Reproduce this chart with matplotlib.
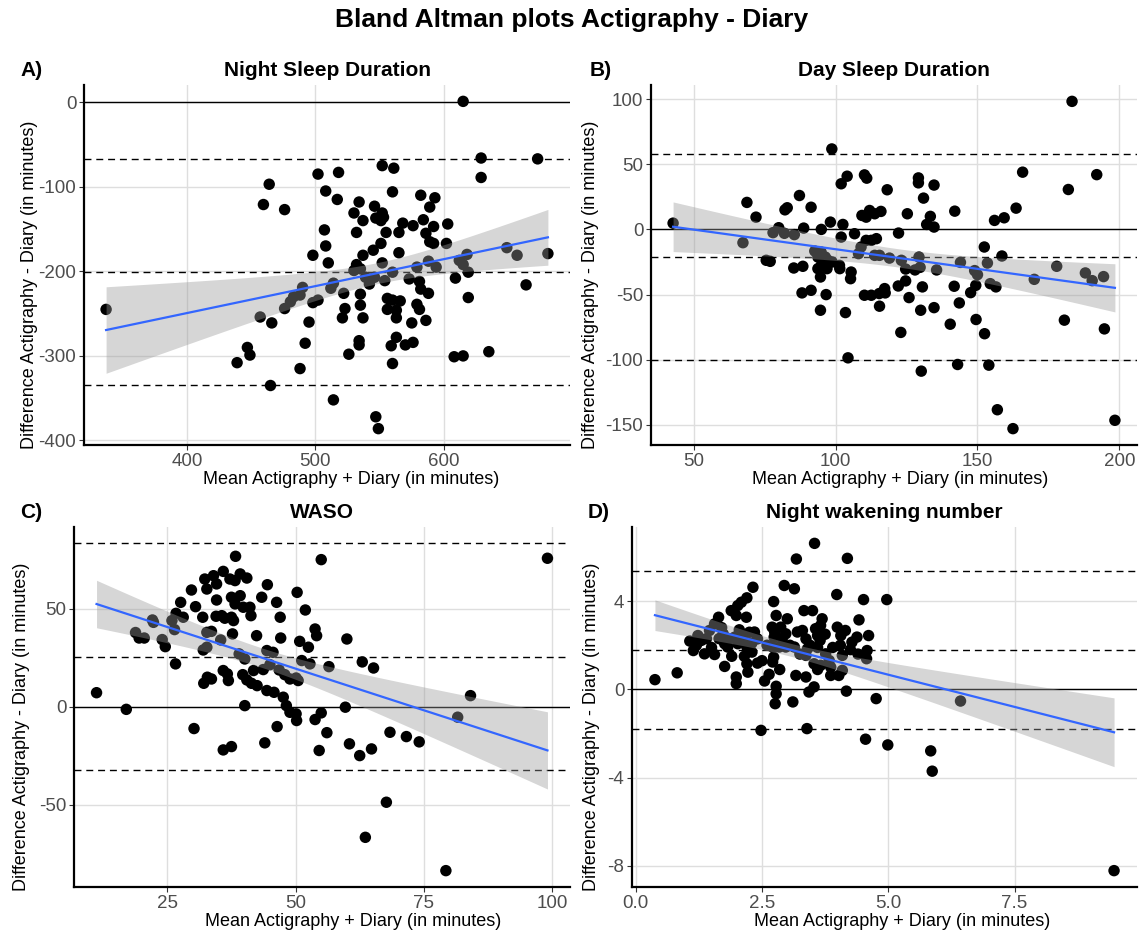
import numpy as np
import matplotlib

matplotlib.use("Agg")
import matplotlib.pyplot as plt
from matplotlib import font_manager

# --- Night sleep duration (min) ---
night_mean = [337, 464, 459.5, 476, 502, 508, 507, 508, 498, 510, 490, 483, 488, 480.5, 476, 498,
              502, 457, 466, 495, 492, 447, 449, 439, 488, 465, 514, 512,
              615, 629, 673, 629, 518, 552, 561, 517, 560, 582, 593, 589, 534, 546, 530, 552,
              547, 551, 553, 537, 532, 555, 565, 568, 576, 584, 586, 592, 603, 589, 592, 602,
              551, 545, 565, 537, 552, 532, 535, 530, 560, 579, 588, 594, 612, 618, 615, 649,
              657, 681, 619, 609, 664, 619, 539, 542, 546, 554, 573, 581, 582, 588, 514, 522,
              535, 556, 560, 566, 523, 535, 556, 563, 563, 579, 581, 521, 537, 575, 586, 534,
              534, 563, 559, 570, 576, 526, 560, 608, 615, 635, 547, 549]
night_diff = [-245, -97, -121, -127, -85, -105, -151, -170, -181, -190, -219, -230, -228, -236, -244, -237,
              -234, -254, -261, -260, -285, -290, -299, -308, -315, -335, -352, -220,
              1, -66, -67, -89, -83, -75, -78, -115, -106, -110, -113, -124, -118, -123, -131, -131,
              -137, -140, -136, -140, -154, -154, -154, -143, -146, -139, -155, -147, -144, -165, -167, -167,
              -167, -175, -178, -181, -190, -192, -197, -199, -201, -195, -188, -195, -187, -180, -192, -172,
              -181, -179, -201, -208, -216, -231, -207, -215, -207, -211, -209, -212, -221, -226, -214, -226,
              -227, -232, -234, -235, -244, -240, -245, -246, -255, -239, -245, -255, -255, -261, -258, -282,
              -287, -278, -288, -287, -284, -298, -309, -301, -300, -295, -372, -386]
night_lines = [-334, -201, -67]  # lower LoA, bias, upper LoA

# --- Day sleep duration (min) ---
day_mean = [42.8, 68.8, 67.4, 72, 75.6, 77, 78, 80, 82, 85.5, 82.2, 83, 87.3, 88.8, 91.4, 85.3,
            88.5, 88.2, 91.4, 94.7, 95, 98.2, 98.7, 92.7, 93.8, 94.9, 96.4, 97.3, 95, 93.8, 94.7, 97,
            98.8, 101.4, 101.5, 96.7, 102, 104.1, 102.6, 102, 106.7, 105.5, 105.3, 103.5, 104.4, 110.2,
            111, 109.3, 110.8, 112, 113.8, 108.1, 109, 110.8, 112.6, 114.4, 110.2, 112.6, 113.8, 115.5,
            115.5,
            183.3, 129.2, 129.2, 134.7, 118.2, 131, 165.9, 192, 182, 163.6, 142, 156, 159.4, 116, 125.3,
            133.4, 132.1, 134.7, 122.2, 119, 152.4, 158.6, 153.5, 129.4, 129.8, 128, 123.2, 124.7, 135.6,
            144, 149, 150, 149.4, 147.6, 141.8, 154.5, 156.5, 170, 177.9, 188, 190.4, 194.4, 124.7, 122.1,
            117.3, 115.4, 117.5, 130.6, 125.9, 130, 134.7, 143.6, 140.4, 149.5, 152.5, 180.6, 194.7, 123,
            143, 154, 130.2, 157, 162.5, 198.4]
day_diff = [4.8, 20.7, -10.2, 9.4, -23.7, -24.5, -2.5, 1.3, -3, -4, 15, 16.6, 26, 1, 17, -29.6,
            -28.3, -48.7, -46.7, -62, 0, 5.6, 61.7, -16.6, -21.2, -17.3, -21.2, -23.7, -27.6, -30.1, -36.5, -30.1,
            -25, -27.6, -30.1, -50, 35, 40.8, 3.8, -5.9, -3.3, -32.7, -37.8, -63.8, -98.5, 41.8,
            39.3, 10.7, 9.4, 14.5, 12, -18.6, -13.5, -8.4, -8.4, -7.1, -50.5, -50.5, -19.9, -19.9,
            -58.9,
            98.2, 39.5, 35.7, 34, 30.4, 24, 43.9, 42, 30.6, 16.3, 14, 6.9, 8.9, 13.8, 12,
            10, 3.8, 1.8, -2.8, -22, -13.5, -20.4, -25.8, -21.2, -29.1, -31.1, -23.7, -30.4, -31.1,
            -25.3, -31.6, -34.7, -42.9, -48.5, -43.6, -41.6, -44.1, -38.3, -28.3, -33.4, -39.3, -36.2, -39.5, -43.4,
            -45.4, -49.2, -48.7, -44.1, -52.3, -62, -60, -56.4, -72.7, -69.1, -80, -69.6, -76.3, -79,
            -103.6, -104.1, -108.7, -138.3, -152.8, -146.4]
day_lines = [-100, -21, 58]

# --- WASO (min) ---
waso_mean = [11.2, 17, 18.8, 19.5, 20.5, 22.1, 22.3, 24, 24.6, 26.6, 25.9, 26.7, 27.6, 26.4, 28.1, 29.7,
             30.5, 31.9, 30.2, 32, 32.7, 32.7, 33.6, 32.3, 32.7, 34, 34.6, 35.9, 34.6, 34.5, 35.6, 36.2,
             35.4, 32.1, 32.8, 33.6, 35.9, 36.7, 36.9, 35.9, 37.5, 38.3, 37.2, 39.2, 40.5, 38.2, 37.5, 39.2,
             38.2, 39.8, 37.5, 37.9, 41.1, 41.3, 37.7, 39, 40.1, 39.7, 40.5, 41.4, 42.5, 40.1, 42.4, 43.4,
             44.5, 46.3, 47, 47.1, 41.8, 43.7, 45, 44.4, 45.6, 44.4, 45.8, 47.6, 48.2, 48.9, 50.2, 50.1,
             44, 46.4, 46.8, 47.9, 48.9, 50.1, 50.5, 50.3, 51.9, 53.8, 54.1, 50.8, 52.5, 51.2, 52.8, 53.8,
             54.6,
             55, 60, 63, 65.2, 56.5, 59.7, 55, 56.1, 60.5, 62.5, 64.8, 68.4, 71.6, 74.1, 67.7, 63.6,
             79.3, 81.6, 84.1, 99.1]
waso_diff = [7.1, -1.4, 37.8, 35, 35, 44.2, 43, 34.2, 30.6, 21.8, 43.9, 47.6, 53.2, 39.3, 45.6, 59.5,
             51, 45.6, -11.2, 28.9, 30.3, 37.9, 38.4, 65.1, 60, 66.8, 62.6, 69, 54.4, 46.1, 46.4, 45.1,
             34, 11.9, 15, 14.1, 18.4, 16.7, 13.3, -22.1, -20.4, 76.7, 65.1, 67.7, 65.6, 64.3, 55.8, 56.6,
             52.4, 50.7, 45.6, 43.9, 50.7, 46.4, 37.1, 26.9, 24.3, 16.3, 13.6, 11.9, 10.7, 0.5, 36.2, 55.8,
             62.2, 53.2, 45.6, 35, 18.4, 18.9, 21.4, 28.6, 27.7, 8.2, 7.3, 4.8, 0.5, -2.9, -7.1, -3.7,
             -18.5, -10.2, 18.7, 16.3, 14.1, 14.6, 13.3, 58.3, 49.3, 39.6, 36.2, 33.3, 30.3, 23.5, 21.8, -6.6,
             -22.4,
             75, 34.5, 22.8, 19.7, 20.4, -0.3, -3.2, -13.3, -19, -25, -21.6, -13.1, -15.3, -18, -48.8, -66.7,
             -83.7, -5.4, 5.6, 75.7]
waso_lines = [-32.1, 25.5, 83.3]

# --- Night wakening number ---
wake_mean = [0.38, 0.82, 1.07, 1.14, 1.23, 1.3, 1.36, 1.56, 1.46, 1.56, 1.64, 1.73, 1.76, 1.82, 1.76,
             1.89, 1.99, 2.02, 2.09, 2.2, 2.32, 1.96, 2.02, 2.12, 2.19, 2.25, 2.2, 1.99, 1.99, 2.2, 2.22,
             2.3, 2.41, 2.41, 2.48, 2.55, 2.64, 2.73, 2.78, 2.7, 2.74, 2.71, 2.73, 2.71, 2.78, 2.78, 2.76,
             2.94, 3.14, 2.87, 2.97, 2.84, 2.97, 3.14, 3.11, 3.18, 3.17, 3.37, 3.33, 3.5, 3.3, 3.37, 3.4,
             3.37, 3.43, 3.53, 3.39, 3.54, 3.56, 3.66, 3.69, 3.6, 3.65, 3.53, 3.66, 3.76, 3.83, 3.86, 3.86,
             4.02, 4.09, 3.98, 3.99, 4.06, 4.15, 4.09, 4.19, 4.17, 4.28, 4.38, 4.42, 4.51, 4.61, 4.58, 4.57,
             4.55, 4.76, 4.97, 4.99, 5.84, 5.87, 6.43, 9.47,
             # overlapping points inside the dense cluster
             1.2, 1.4, 1.5, 1.65, 1.7, 1.85, 1.9, 2.05, 2.15, 2.3, 2.35, 2.6, 2.75, 2.9, 3.0, 3.05,
             3.2, 3.25, 3.45, 3.6, 3.75, 3.9, 4.05, 4.25, 4.4, 2.5, 2.85, 3.6]
wake_diff = [0.44, 0.75, 2.19, 1.76, 2.44, 2.22, 1.61, 1.58, 2.67, 2.97, 3.27, 2.52, 2.07, 1.92, 1.04,
             3.57, 3.35, 3.8, 3.95, 4.15, 4.63, 2.37, 2.07, 2.34, 3.27, 2.59, 1.92, 0.56, 0.26, 1.16, 0.78,
             1.69, 2.29, 1.19, -1.86, 0.38, 0.68, 3.98, 3.35, 2.82, 2.37, 1.92, 1.46, 1.24, 0.14, -0.2, -0.65,
             4.71, 4.56, 2.82, 2.52, 1.92, 1.92, 1.92, -0.57, 5.91, 0.63, 0.56, 3.57, 3.57, 2.67, 2.29, 1.84,
             1.54, -0.12, 0.11, -1.78, 6.62, 2.75, 2.9, 3.2, 2.44, 2.22, 1.16, 1.09, 1.61, 1.31, 1.01, 0.63,
             0.63, 0.86, 4.3, 2.82, 2.44, 2.67, 1.54, 5.94, -0.08, 2.14, 2.37, 3.15, 4.07, 2.44, 1.76, 1.39,
             -2.26, -0.42, 4.07, -2.52, -2.79, -3.71, -0.53, -8.22,
             2.0, 2.3, 1.9, 2.3, 2.8, 2.3, 1.5, 2.7, 1.5, 2.1, 2.6, 2.0, 2.6, 2.3, 3.2, 2.0,
             2.6, 1.6, 2.0, 1.9, 2.5, 1.9, 2.0, 1.8, 1.6, 1.3, 0.9, 0.9]
wake_lines = [-1.79, 1.79, 5.38]

plt.rcParams["axes.unicode_minus"] = False

BOLD_FONT = ["Liberation Sans", "DejaVu Sans"]
_installed = {f.name for f in font_manager.fontManager.ttflist}
if "Liberation Sans Narrow" in _installed:
    AXIS_FONT = ["Liberation Sans Narrow", "DejaVu Sans"]
    TICK_SIZE, LABEL_SIZE = 16, 15
else:
    AXIS_FONT = ["Liberation Sans", "DejaVu Sans"]
    TICK_SIZE, LABEL_SIZE = 13.5, 13

W, H = 1143, 933
T_CRIT = 1.98  # two-sided 95% t quantile for ~120 residual df


def padded(lo, hi, frac=0.05):
    span = hi - lo
    return lo - span * frac, hi + span * frac


def draw_panel(ax, box, x, y, lines, title, xticks, yticks, xtick_labels, xlab_cx, ylab_x):
    left, top, right, bottom = box
    x = np.asarray(x, float)
    y = np.asarray(y, float)

    # linear fit with 95% confidence band for the mean
    slope, icpt = np.polyfit(x, y, 1)
    xs = np.linspace(x.min(), x.max(), 80)
    ys = icpt + slope * xs
    resid = y - (icpt + slope * x)
    s = np.sqrt(np.sum(resid ** 2) / (len(x) - 2))
    sxx = np.sum((x - x.mean()) ** 2)
    se = s * np.sqrt(1 / len(x) + (xs - x.mean()) ** 2 / sxx)

    for v in yticks:
        ax.axhline(v, color="#dedede", lw=1.0, zorder=0)
    for v in xticks:
        ax.axvline(v, color="#dedede", lw=1.0, zorder=0)

    ax.axhline(0, color="black", lw=1.0, zorder=1)
    for v in lines:
        ax.axhline(v, color="black", lw=1.0, ls=(0, (5, 3.5)), zorder=1)

    ax.scatter(x, y, s=68, color="black", edgecolors="none", zorder=2)
    ax.fill_between(xs, ys - T_CRIT * se, ys + T_CRIT * se, color="#999999", alpha=0.4,
                    lw=0, zorder=3)
    ax.plot(xs, ys, color="#3366FF", lw=1.6, zorder=4)

    ylo = min(y.min(), min(lines))
    yhi = max(y.max(), max(lines))
    ax.set_xlim(*padded(x.min(), x.max()))
    ax.set_ylim(*padded(ylo, yhi))

    ax.set_xticks(xticks)
    ax.set_xticklabels(xtick_labels)
    ax.set_yticks(yticks)
    ax.tick_params(length=3.5, width=0.8, color="#333333", labelcolor="#4d4d4d",
                   labelsize=TICK_SIZE, pad=2)
    for lab in ax.get_xticklabels() + ax.get_yticklabels():
        lab.set_family(AXIS_FONT)

    for side in ("top", "right"):
        ax.spines[side].set_visible(False)
    for side in ("left", "bottom"):
        ax.spines[side].set_linewidth(1.6)

    pw, ph = right - left, bottom - top
    ax.set_xlabel("Mean Actigraphy + Diary (in minutes)", fontsize=LABEL_SIZE, family=AXIS_FONT)
    ax.xaxis.set_label_coords((xlab_cx - left) / pw, -26 / ph)
    ax.set_ylabel("Difference Actigraphy - Diary (in minutes)", fontsize=LABEL_SIZE, family=AXIS_FONT)
    ax.yaxis.set_label_coords((ylab_x - left) / pw, 0.5 - 20 / ph)

    fig.text((left + right) / 2 / W, 1 - (top - 14) / H, title, ha="center", va="center",
             fontsize=15, fontweight="bold", family=BOLD_FONT)


fig = plt.figure(figsize=(W / 100, H / 100), dpi=100)

panels = [
    ((84, 85, 570, 445), night_mean, night_diff, night_lines, "Night Sleep Duration",
     [400, 500, 600], [-400, -300, -200, -100, 0], ["400", "500", "600"], 351, 38),
    ((651, 85, 1137, 445), day_mean, day_diff, day_lines, "Day Sleep Duration",
     [50, 100, 150, 200], [-150, -100, -50, 0, 50, 100], ["50", "100", "150", "200"], 900, 599),
    ((74, 527, 570, 887), waso_mean, waso_diff, waso_lines, "WASO",
     [25, 50, 75, 100], [-50, 0, 50], ["25", "50", "75", "100"], 353, 30),
    ((632, 527, 1137, 887), wake_mean, wake_diff, wake_lines, "Night wakening number",
     [0, 2.5, 5, 7.5], [-8, -4, 0, 4], ["0.0", "2.5", "5.0", "7.5"], 902, 600),
]

for box, xv, yv, lv, ttl, xt, yt, xtl, xlab_cx, ylab_x in panels:
    l, t, r, b = box
    ax = fig.add_axes([l / W, 1 - b / H, (r - l) / W, (b - t) / H])
    draw_panel(ax, box, xv, yv, lv, ttl, xt, yt, xtl, xlab_cx, ylab_x)

fig.text(0.5, 1 - 20 / H, "Bland Altman plots Actigraphy - Diary", ha="center", va="center",
         fontsize=19, fontweight="bold", family=BOLD_FONT)
for letter, px, py in [("A)", 20, 71), ("B)", 590, 71), ("C)", 20, 513), ("D)", 588, 513)]:
    fig.text(px / W, 1 - py / H, letter, ha="left", va="center", fontsize=15,
             fontweight="bold", family=BOLD_FONT)

fig.savefig("out.png", dpi=100)
